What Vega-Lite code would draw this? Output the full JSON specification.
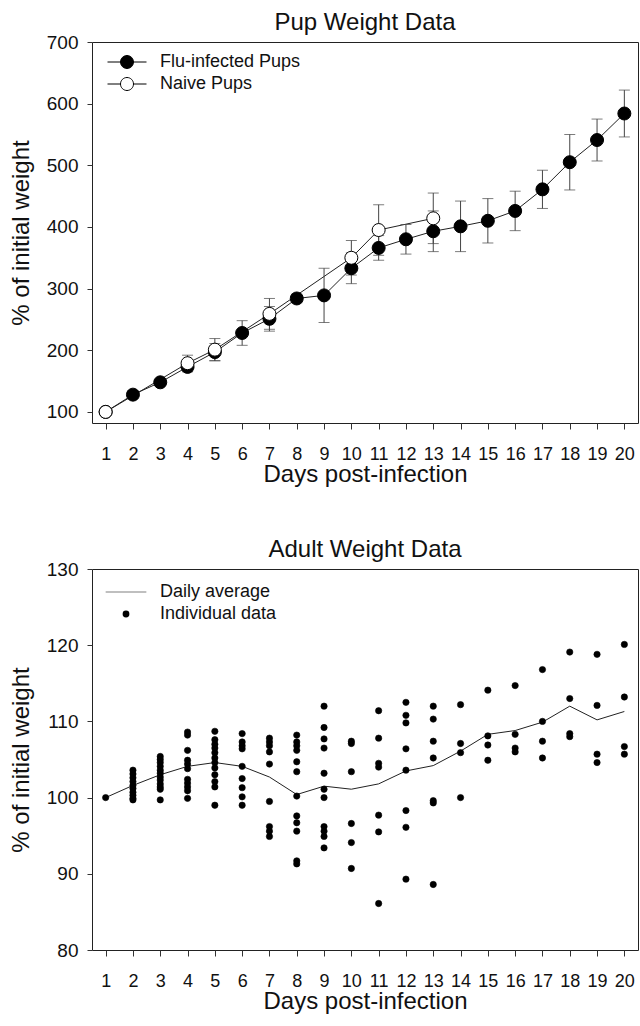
{
  "$schema": "https://vega.github.io/schema/vega-lite/v6.json",
  "padding": {"left": 8, "top": 10, "right": 1, "bottom": 0},
  "spacing": 50,
  "config": {
    "font": "Liberation Sans",
    "view": {"stroke": "#222", "strokeWidth": 1},
    "axis": {"grid": false, "domain": false, "tickColor": "#333", "labelColor": "#111", "titleColor": "#111", "labelFontSize": 18, "titleFontSize": 24, "titleFontWeight": "normal", "labelOverlap": false},
    "axisX": {"tickSize": 6, "labelPadding": 16.5, "titlePadding": -1.5, "labelAngle": 0},
    "axisY": {"tickSize": 5, "labelPadding": 9, "titlePadding": 13, "labelFontSize": 19},
    "title": {"fontSize": 24, "fontWeight": "normal", "color": "#111", "offset": -2, "baseline": "alphabetic"}
  },
  "datasets": {
    "pups": [
      {"day": 1, "group": "Flu-infected Pups", "mean": 100, "err": 0},
      {"day": 2, "group": "Flu-infected Pups", "mean": 128, "err": 6},
      {"day": 3, "group": "Flu-infected Pups", "mean": 148, "err": 4},
      {"day": 4, "group": "Flu-infected Pups", "mean": 173, "err": 8},
      {"day": 5, "group": "Flu-infected Pups", "mean": 197, "err": 14},
      {"day": 6, "group": "Flu-infected Pups", "mean": 228, "err": 20},
      {"day": 7, "group": "Flu-infected Pups", "mean": 251, "err": 20},
      {"day": 8, "group": "Flu-infected Pups", "mean": 284, "err": 7},
      {"day": 9, "group": "Flu-infected Pups", "mean": 289, "err": 44},
      {"day": 10, "group": "Flu-infected Pups", "mean": 333, "err": 25},
      {"day": 11, "group": "Flu-infected Pups", "mean": 366, "err": 20},
      {"day": 12, "group": "Flu-infected Pups", "mean": 380, "err": 24},
      {"day": 13, "group": "Flu-infected Pups", "mean": 393, "err": 33},
      {"day": 14, "group": "Flu-infected Pups", "mean": 401, "err": 41},
      {"day": 15, "group": "Flu-infected Pups", "mean": 410, "err": 36},
      {"day": 16, "group": "Flu-infected Pups", "mean": 426, "err": 32},
      {"day": 17, "group": "Flu-infected Pups", "mean": 461, "err": 31},
      {"day": 18, "group": "Flu-infected Pups", "mean": 505, "err": 45},
      {"day": 19, "group": "Flu-infected Pups", "mean": 541, "err": 34},
      {"day": 20, "group": "Flu-infected Pups", "mean": 584, "err": 38},
      {"day": 1, "group": "Naive Pups", "mean": 100, "err": 0},
      {"day": 4, "group": "Naive Pups", "mean": 179, "err": 13},
      {"day": 5, "group": "Naive Pups", "mean": 201, "err": 18},
      {"day": 7, "group": "Naive Pups", "mean": 259, "err": 25},
      {"day": 10, "group": "Naive Pups", "mean": 350, "err": 28},
      {"day": 11, "group": "Naive Pups", "mean": 395, "err": 41},
      {"day": 13, "group": "Naive Pups", "mean": 414, "err": 41}
    ],
    "adult_avg": [
      {"day": 1, "avg": 100}, {"day": 2, "avg": 101.6}, {"day": 3, "avg": 103.0}, {"day": 4, "avg": 104.1},
      {"day": 5, "avg": 104.6}, {"day": 6, "avg": 104.1}, {"day": 7, "avg": 102.7}, {"day": 8, "avg": 100.4},
      {"day": 9, "avg": 101.5}, {"day": 10, "avg": 101.1}, {"day": 11, "avg": 101.8}, {"day": 12, "avg": 103.5},
      {"day": 13, "avg": 104.2}, {"day": 14, "avg": 106.1}, {"day": 15, "avg": 108.3}, {"day": 16, "avg": 108.8},
      {"day": 17, "avg": 109.9}, {"day": 18, "avg": 112.0}, {"day": 19, "avg": 110.2}, {"day": 20, "avg": 111.3}
    ],
    "adult_ind": [
      {"day": 1, "weight": 100},
      {"day": 2, "weight": 103.6}, {"day": 2, "weight": 103.1}, {"day": 2, "weight": 102.6}, {"day": 2, "weight": 102.1}, {"day": 2, "weight": 101.6}, {"day": 2, "weight": 101.2}, {"day": 2, "weight": 100.7}, {"day": 2, "weight": 100.3}, {"day": 2, "weight": 99.9}, {"day": 2, "weight": 99.7},
      {"day": 3, "weight": 105.4}, {"day": 3, "weight": 105.0}, {"day": 3, "weight": 104.6}, {"day": 3, "weight": 104.1}, {"day": 3, "weight": 103.6}, {"day": 3, "weight": 103.2}, {"day": 3, "weight": 102.7}, {"day": 3, "weight": 102.3}, {"day": 3, "weight": 101.8}, {"day": 3, "weight": 101.4}, {"day": 3, "weight": 101.1}, {"day": 3, "weight": 99.7},
      {"day": 4, "weight": 108.6}, {"day": 4, "weight": 108.2}, {"day": 4, "weight": 106.2}, {"day": 4, "weight": 104.9}, {"day": 4, "weight": 104.4}, {"day": 4, "weight": 103.8}, {"day": 4, "weight": 102.4}, {"day": 4, "weight": 101.9}, {"day": 4, "weight": 101.4}, {"day": 4, "weight": 100.9}, {"day": 4, "weight": 99.9},
      {"day": 5, "weight": 108.7}, {"day": 5, "weight": 107.6}, {"day": 5, "weight": 107.0}, {"day": 5, "weight": 106.5}, {"day": 5, "weight": 105.9}, {"day": 5, "weight": 105.2}, {"day": 5, "weight": 104.6}, {"day": 5, "weight": 103.9}, {"day": 5, "weight": 103.0}, {"day": 5, "weight": 102.1}, {"day": 5, "weight": 101.4}, {"day": 5, "weight": 99.0},
      {"day": 6, "weight": 108.4}, {"day": 6, "weight": 107.3}, {"day": 6, "weight": 106.8}, {"day": 6, "weight": 106.4}, {"day": 6, "weight": 104.1}, {"day": 6, "weight": 102.5}, {"day": 6, "weight": 101.3}, {"day": 6, "weight": 100.1}, {"day": 6, "weight": 99.0},
      {"day": 7, "weight": 107.8}, {"day": 7, "weight": 107.3}, {"day": 7, "weight": 106.8}, {"day": 7, "weight": 106.0}, {"day": 7, "weight": 104.4}, {"day": 7, "weight": 99.5}, {"day": 7, "weight": 96.2}, {"day": 7, "weight": 95.6}, {"day": 7, "weight": 94.9},
      {"day": 8, "weight": 108.2}, {"day": 8, "weight": 107.3}, {"day": 8, "weight": 106.8}, {"day": 8, "weight": 106.2}, {"day": 8, "weight": 104.7}, {"day": 8, "weight": 103.4}, {"day": 8, "weight": 100.2}, {"day": 8, "weight": 97.6}, {"day": 8, "weight": 96.7}, {"day": 8, "weight": 95.6}, {"day": 8, "weight": 91.7}, {"day": 8, "weight": 91.3},
      {"day": 9, "weight": 112.0}, {"day": 9, "weight": 109.2}, {"day": 9, "weight": 107.7}, {"day": 9, "weight": 106.5}, {"day": 9, "weight": 103.2}, {"day": 9, "weight": 101.1}, {"day": 9, "weight": 100.0}, {"day": 9, "weight": 96.2}, {"day": 9, "weight": 95.6}, {"day": 9, "weight": 94.9}, {"day": 9, "weight": 93.4},
      {"day": 10, "weight": 107.4}, {"day": 10, "weight": 107.1}, {"day": 10, "weight": 103.4}, {"day": 10, "weight": 96.6}, {"day": 10, "weight": 94.1}, {"day": 10, "weight": 90.7},
      {"day": 11, "weight": 111.4}, {"day": 11, "weight": 107.8}, {"day": 11, "weight": 104.5}, {"day": 11, "weight": 104.0}, {"day": 11, "weight": 97.7}, {"day": 11, "weight": 95.5}, {"day": 11, "weight": 86.1},
      {"day": 12, "weight": 112.5}, {"day": 12, "weight": 110.8}, {"day": 12, "weight": 109.8}, {"day": 12, "weight": 106.4}, {"day": 12, "weight": 103.6}, {"day": 12, "weight": 98.3}, {"day": 12, "weight": 96.1}, {"day": 12, "weight": 89.3},
      {"day": 13, "weight": 112.0}, {"day": 13, "weight": 110.3}, {"day": 13, "weight": 107.4}, {"day": 13, "weight": 105.2}, {"day": 13, "weight": 99.6}, {"day": 13, "weight": 99.3}, {"day": 13, "weight": 88.6},
      {"day": 14, "weight": 112.2}, {"day": 14, "weight": 107.1}, {"day": 14, "weight": 105.9}, {"day": 14, "weight": 100.0},
      {"day": 15, "weight": 114.1}, {"day": 15, "weight": 108.1}, {"day": 15, "weight": 106.9}, {"day": 15, "weight": 104.9},
      {"day": 16, "weight": 114.7}, {"day": 16, "weight": 108.3}, {"day": 16, "weight": 106.5}, {"day": 16, "weight": 106.0},
      {"day": 17, "weight": 116.8}, {"day": 17, "weight": 110.0}, {"day": 17, "weight": 107.4}, {"day": 17, "weight": 105.2},
      {"day": 18, "weight": 119.1}, {"day": 18, "weight": 113.0}, {"day": 18, "weight": 108.4}, {"day": 18, "weight": 108.0},
      {"day": 19, "weight": 118.8}, {"day": 19, "weight": 112.1}, {"day": 19, "weight": 105.7}, {"day": 19, "weight": 104.6},
      {"day": 20, "weight": 120.1}, {"day": 20, "weight": 113.2}, {"day": 20, "weight": 106.7}, {"day": 20, "weight": 105.7}
    ]
  },
  "vconcat": [
    {
      "title": "Pup Weight Data",
      "width": 546,
      "height": 381,
      "data": {"name": "pups"},
      "layer": [
        {
          "mark": {"type": "line", "color": "#222", "strokeWidth": 1},
          "encoding": {
            "x": {"field": "day", "type": "ordinal", "scale": {"type": "point", "domain": [1,2,3,4,5,6,7,8,9,10,11,12,13,14,15,16,17,18,19,20], "padding": 0.5}, "axis": {"labelOverlap": false, "labelAngle": 0, "title": "Days post-infection"}},
            "y": {"field": "mean", "type": "quantitative", "scale": {"domain": [82, 700], "nice": false}, "axis": {"values": [100,200,300,400,500,600,700], "title": "% of initial weight"}},
            "detail": {"field": "group", "type": "nominal"}
          }
        },
        {
          "mark": {"type": "errorbar", "color": "#444", "ticks": {"size": 11, "color": "#444"}, "rule": {"color": "#444", "strokeWidth": 1}},
          "encoding": {
            "x": {"field": "day", "type": "ordinal", "title": "Days post-infection"},
            "y": {"field": "mean", "type": "quantitative", "title": "% of initial weight"},
            "yError": {"field": "err"}
          }
        },
        {
          "mark": {"type": "point", "filled": true, "size": 169, "stroke": "black", "strokeWidth": 1, "opacity": 1},
          "encoding": {
            "x": {"field": "day", "type": "ordinal", "title": "Days post-infection"},
            "y": {"field": "mean", "type": "quantitative", "title": "% of initial weight"},
            "fill": {
              "field": "group", "type": "nominal",
              "scale": {"domain": ["Flu-infected Pups", "Naive Pups"], "range": ["black", "white"]},
              "legend": {
                "title": null, "orient": "none", "legendX": 26, "legendY": 11, "padding": 0,
                "symbolType": "M-3,0L-1,0M1,0L3,0M-1,0A1,1,0,1,1,1,0A1,1,0,1,1,-1,0Z",
                "symbolSize": 169, "symbolStrokeColor": "black", "symbolStrokeWidth": 1,
                "labelFontSize": 18, "labelOffset": 24, "rowPadding": 4, "labelColor": "#111",
                "encode": {"symbols": {"update": {"stroke": {"value": "black"}, "strokeWidth": {"value": 1}}}}
              }
            }
          }
        }
      ]
    },
    {
      "title": "Adult Weight Data",
      "width": 546,
      "height": 381,
      "layer": [
        {
          "data": {"name": "adult_avg"},
          "mark": {"type": "line", "color": "#222", "strokeWidth": 1},
          "encoding": {
            "x": {"field": "day", "type": "ordinal", "scale": {"type": "point", "domain": [1,2,3,4,5,6,7,8,9,10,11,12,13,14,15,16,17,18,19,20], "padding": 0.5}, "axis": {"labelOverlap": false, "labelAngle": 0, "title": "Days post-infection"}},
            "y": {"field": "avg", "type": "quantitative", "scale": {"domain": [80, 130], "nice": false}, "axis": {"values": [80,90,100,110,120,130], "title": "% of initial weight"}}
          }
        },
        {
          "data": {"name": "adult_ind"},
          "mark": {"type": "point", "filled": true, "size": 40, "fill": "black", "stroke": "black", "strokeWidth": 0.6, "opacity": 1},
          "encoding": {
            "x": {"field": "day", "type": "ordinal", "title": "Days post-infection"},
            "y": {"field": "weight", "type": "quantitative", "title": "% of initial weight"},
            "shape": {
              "datum": "Individual data",
              "scale": {"domain": ["Daily average", "Individual data"], "range": ["M-6,-0.04L6,-0.04L6,0.04L-6,0.04Z", "circle"]},
              "legend": {
                "title": null, "orient": "none", "legendX": 25, "legendY": 541, "padding": 0,
                "symbolSize": 46, "symbolStrokeColor": "black", "symbolStrokeWidth": 1, "symbolFillColor": "black",
                "labelFontSize": 18, "labelOffset": 25, "rowPadding": 4, "labelColor": "#111",
                "encode": {"symbols": {"update": {"stroke": {"value": "black"}, "strokeOpacity": {"value": 1}, "strokeWidth": {"value": 1}, "fill": {"value": "black"}, "opacity": {"value": 1}}}}
              }
            }
          }
        }
      ]
    }
  ]
}
